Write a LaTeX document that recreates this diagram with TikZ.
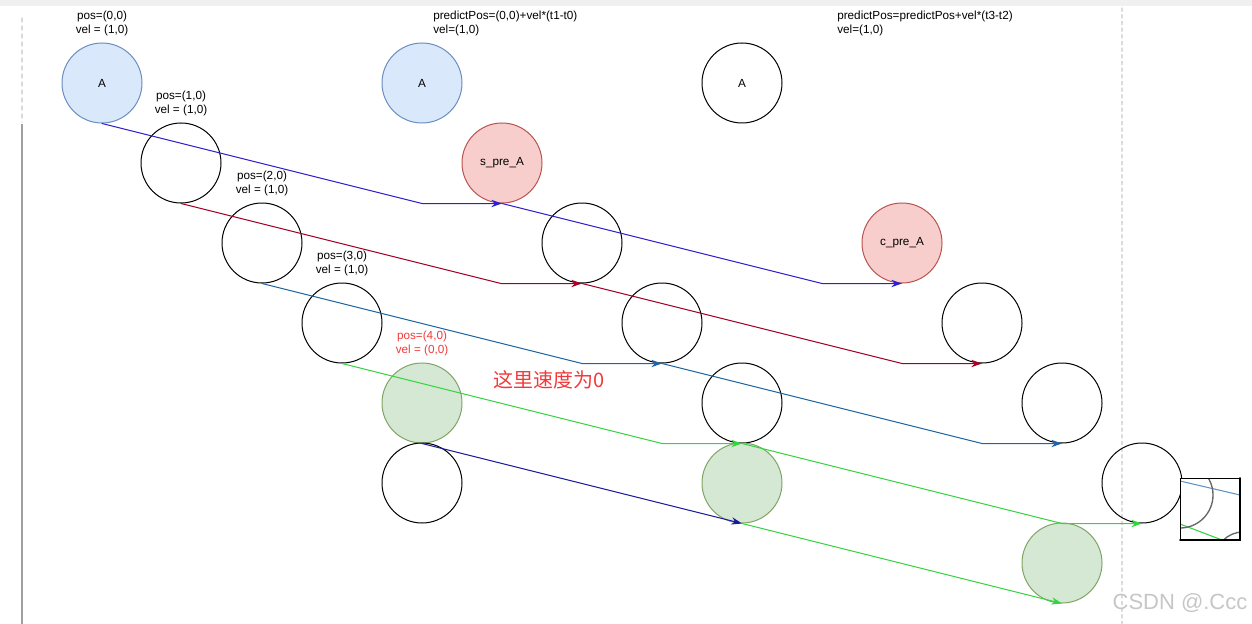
\documentclass[tikz,border=0pt]{standalone}
\usepackage{fontspec}
\setmainfont{Liberation Sans}
\newfontfamily\cjk{Noto Sans CJK SC}
\usetikzlibrary{arrows.meta}
\definecolor{lineblue}{HTML}{3020CC}
\definecolor{linered}{HTML}{A20025}
\definecolor{linesteel}{HTML}{1F64A8}
\definecolor{linegreen}{HTML}{33D63F}
\definecolor{linenavy}{HTML}{1A1AA0}
\definecolor{txtred}{HTML}{F03A3A}
\definecolor{fblue}{HTML}{DAE8FC}\definecolor{dblue}{HTML}{6C8EBF}
\definecolor{fred}{HTML}{F8CECC}\definecolor{dred}{HTML}{B85450}
\definecolor{fgreen}{HTML}{D5E8D4}\definecolor{dgreen}{HTML}{82A366}
\begin{document}
\begin{tikzpicture}[x=0.75pt,y=-0.75pt,line cap=round,line join=round,
  font=\fontsize{8.8}{10.5}\selectfont,
  circ/.style={circle,draw=black,line width=0.75pt,minimum size=60pt,inner sep=0pt},
  pa/.style={circ,draw=dblue,fill=fblue},
  pr/.style={circ,draw=dred,fill=fred},
  pg/.style={circ,draw=dgreen,fill=fgreen},
  lbl/.style={align=center,inner sep=0pt},
  conn/.style={line width=0.75pt,-{Stealth[length=8pt,width=5.5pt]}}]
  \useasboundingbox (0,0) rectangle (1252,624);
  % page frame
  \fill[gray!12] (0,0) rectangle (1252,6);
  \draw[gray!30,dashed,line width=0.9pt] (22,18) -- (22,122);
  \draw[gray!75,line width=1.3pt,line cap=butt] (22,124) -- (22,624);
  \draw[gray!28,dash pattern=on 2.5pt off 2.5pt,line width=0.9pt] (1122,8) -- (1122,624);
  % circles
  \node[pa] (a0) at (102,83) {A};
  \node[circ] (b1) at (181,163) {};
  \node[circ] (b2) at (262,243) {};
  \node[circ] (b3) at (342,323) {};
  \node[pg] (g1) at (422,403) {};
  \node[circ] (b4) at (422,483) {};
  \node[pa] (a1) at (422,83) {A};
  \node[pr] (spre) at (502,163) {s\_pre\_A};
  \node[circ] (b5) at (582,243) {};
  \node[circ] (b6) at (662,323) {};
  \node[circ] (b7) at (742,403) {};
  \node[pg] (g2) at (742,483) {};
  \node[circ] (a2) at (742,83) {A};
  \node[pr] (cpre) at (902,243) {c\_pre\_A};
  \node[circ] (b8) at (982,323) {};
  \node[circ] (b9) at (1062,403) {};
  \node[circ] (b10) at (1142,483) {};
  \node[pg] (g3) at (1062,563) {};
  % connectors
  \draw[conn,lineblue] (a0.south) -- ++(320,80) -- (spre.south);
  \draw[conn,lineblue] (spre.south) -- ++(320,80) -- (cpre.south);
  \draw[conn,linered] (b1.south) -- ++(320,80) -- (b5.south);
  \draw[conn,linered] (b5.south) -- ++(320,80) -- (b8.south);
  \draw[conn,linesteel] (b2.south) -- ++(320,80) -- (b6.south);
  \draw[conn,linesteel] (b6.south) -- ++(320,80) -- (b9.south);
  \draw[conn,linegreen] (b3.south) -- ++(320,80) -- (b7.south);
  \draw[conn,linegreen] (b7.south) -- ++(320,80) -- (b10.south);
  \draw[conn,linenavy] (g1.south) -- (g2.south);
  \draw[conn,linegreen] (g2.south) -- (g3.south);
  % labels
  \node[lbl] (l0) at (102,23) {pos=(0,0)\\vel = (1,0)};
  \node[lbl] (l1) at (181,103) {pos=(1,0)\\vel = (1,0)};
  \node[lbl] (l2) at (262,183) {pos=(2,0)\\vel = (1,0)};
  \node[lbl] (l3) at (342,263) {pos=(3,0)\\vel = (1,0)};
  \node[lbl,txtred] (l4) at (422,343) {pos=(4,0)\\vel = (0,0)};
  \node[lbl,align=left,anchor=west] (p1) at (433,23) {predictPos=(0,0)+vel*(t1-t0)\\vel=(1,0)};
  \node[lbl,align=left,anchor=west] (p2) at (837,23) {predictPos=predictPos+vel*(t3-t2)\\vel=(1,0)};
  \node[txtred,inner sep=0pt,anchor=west,font=\cjk\fontsize{15}{17}\selectfont] (zero) at (493,380) {这里速度为0};
  % inset
  \begin{scope}
    \clip (1180,478) rectangle (1240,540);
    \fill[white] (1180,478) rectangle (1240,540);
    \draw[linesteel!70,line width=0.8pt] (1180,481) -- (1240,495);
    \draw[linegreen,line width=0.8pt] (1180,524) -- (1222,540);
    \draw[gray!80!black,line width=1pt] (1180,495) circle[radius=33];
    \draw[gray!80!black,line width=1pt] (1243,560) circle[radius=28];
  \end{scope}
  \draw[black,line width=0.6pt] (1180,478) rectangle (1240,540);
  \draw[black,line width=1.2pt] (1240,478) -- (1240,540) -- (1180,540);
  % watermark
  \node[gray!45,inner sep=0pt,font=\fontsize{16.5}{18}\selectfont] (wm) at (1180,603) {CSDN @.Ccc};
\end{tikzpicture}
\end{document}
